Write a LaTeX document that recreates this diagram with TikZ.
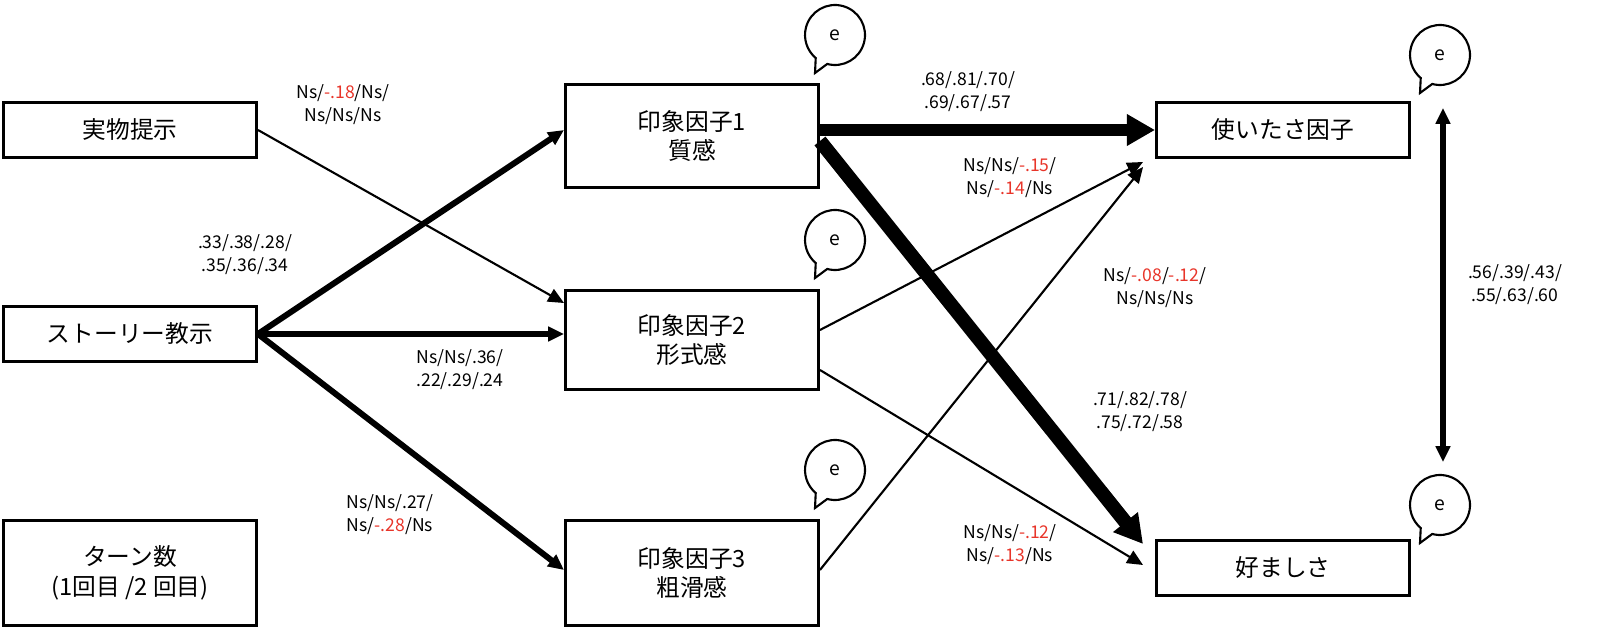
\documentclass[tikz,border=0pt]{standalone}
\usepackage{fontspec}
\setmainfont{Noto Sans CJK JP}
\usetikzlibrary{arrows.meta, positioning, calc}
\definecolor{sigred}{HTML}{E8352A}

\tikzset{
  box/.style={draw, line width=1.7pt, minimum width=5.06cm, minimum height=1.1cm, align=center, font=\fontsize{13.5}{17}\selectfont, inner sep=0pt},
  coef/.style={align=center, font=\fontsize{10}{13}\selectfont, inner sep=0pt},
  path thin/.style={line width=1.2pt, -{Triangle[length=9pt,width=8pt]}},
  path mid/.style={line width=3.4pt, -{Triangle[length=9pt,width=8pt]}},
  path big/.style={line width=7pt, -{Triangle[length=16pt,width=17pt]}},
  ebub/.pic={
    \draw[line width=1.2pt, fill=white] (255:0.6cm) arc[start angle=255, end angle=590, radius=0.6cm] -- (-0.4cm,-0.76cm) -- cycle;
    \node[font=\fontsize{11}{13}\selectfont] at (0,0) {e};
  }
}
\newcommand{\rd}[1]{\textcolor{sigred}{#1}}

\begin{document}
\begin{tikzpicture}[x=0.02cm, y=-0.02cm]
  \useasboundingbox (0,0) rectangle (1600,638);

  % exogenous
  \node[box] (real) at (130,130) {実物提示};
  \node[box] (story) at (130,334) {ストーリー教示};
  \node[box, minimum height=2.12cm] (turn) at (130,573) {ターン数\\(1回目 /2 回目)};

  % impression factors
  \node[box, minimum height=2.06cm] (imp1) at (692,136) {印象因子1\\質感};
  \node[box, minimum height=2.0cm] (imp2) at (692,340) {印象因子2\\形式感};
  \node[box, minimum height=2.1cm] (imp3) at (692,573) {印象因子3\\粗滑感};

  % outcomes
  \node[box] (use) at (1283,130) {使いたさ因子};
  \node[box] (like) at (1283,568) {好ましさ};

  % errors
  \pic at (835,35) {ebub};
  \pic at (835,240) {ebub};
  \pic at (835,470) {ebub};
  \pic at (1440,55) {ebub};
  \pic at (1440,505) {ebub};

  % paths
  \draw[path thin] (real.east) -- ([yshift=0.74cm]imp2.west);
  \draw[path mid] (story.east) -- ([yshift=0.12cm]imp1.west);
  \draw[path mid] (story.east) -- (imp2.west |- story.east);
  \draw[path mid] (story.east) -- ([yshift=0.06cm]imp3.west);
  \draw[path big] (imp1.east |- use.west) -- (use.west);
  \draw[path big, line width=8pt] ([yshift=-0.1cm]imp1.east) -- ([xshift=-0.24cm,yshift=-0.1cm]like.north west);
  \draw[path thin] ([yshift=0.2cm]imp2.east) -- ([xshift=-0.24cm,yshift=-0.06cm]use.south west);
  \draw[path thin] ([yshift=-0.6cm]imp2.east) -- ([xshift=-0.24cm,yshift=0.06cm]like.west);
  \draw[path thin] ([yshift=0.06cm]imp3.east) -- ([xshift=-0.24cm,yshift=-0.16cm]use.south west);
  \coordinate (ctop) at (1443,108);
  \coordinate (cbot) at (1443,462);
  \draw[line width=3.4pt, {Triangle[length=9pt,width=8pt]}-{Triangle[length=9pt,width=8pt]}] (ctop) -- (cbot);

  % coefficients
  \node[coef] (c1) at (343,105) {Ns/\rd{-.18}/Ns/\\Ns/Ns/Ns};
  \node[coef] (c2) at (245,255) {.33/.38/.28/\\.35/.36/.34};
  \node[coef] (c3) at (460,370) {Ns/Ns/.36/\\.22/.29/.24};
  \node[coef] (c4) at (390,515) {Ns/Ns/.27/\\Ns/\rd{-.28}/Ns};
  \node[coef] (c5) at (968,92) {.68/.81/.70/\\.69/.67/.57};
  \node[coef] (c6) at (1010,178) {Ns/Ns/\rd{-.15}/\\Ns/\rd{-.14}/Ns};
  \node[coef] (c7) at (1155,288) {Ns/\rd{-.08}/\rd{-.12}/\\Ns/Ns/Ns};
  \node[coef] (c8) at (1140,412) {.71/.82/.78/\\.75/.72/.58};
  \node[coef] (c9) at (1010,545) {Ns/Ns/\rd{-.12}/\\Ns/\rd{-.13}/Ns};
  \node[coef] (c10) at (1515,285) {.56/.39/.43/\\.55/.63/.60};
\end{tikzpicture}
\end{document}
